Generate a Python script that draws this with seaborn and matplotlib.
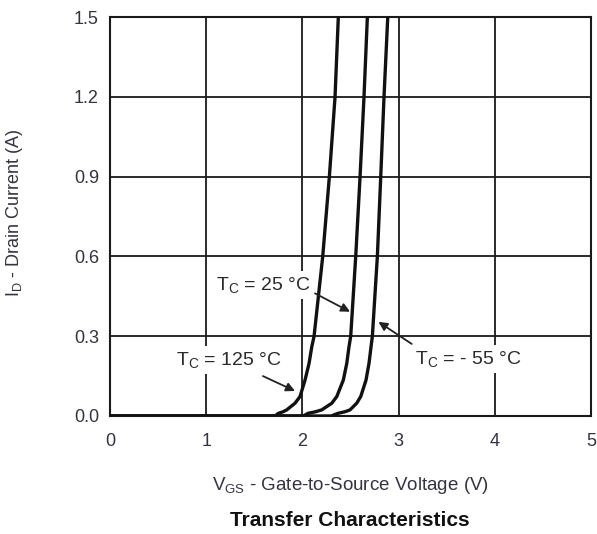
import numpy as np
import pandas as pd
import matplotlib
matplotlib.use("Agg")
import matplotlib.pyplot as plt
import seaborn as sns

# Drain current readings (A) and gate voltage (V) for each case temperature
current_a = [0.0, 0.0, 0.010, 0.016, 0.023, 0.048, 0.073, 0.135, 0.198, 0.26, 0.30, 0.6, 0.9, 1.2, 1.5]
vgs_125c = [0.0, 1.715, 1.750, 1.800, 1.837, 1.923, 1.975, 2.027, 2.069, 2.097, 2.121, 2.211, 2.280, 2.339, 2.373]
vgs_25c = [0.0, 2.010, 2.058, 2.138, 2.201, 2.305, 2.357, 2.425, 2.461, 2.484, 2.502, 2.554, 2.599, 2.640, 2.675]
vgs_m55c = [0.0, 2.300, 2.370, 2.443, 2.495, 2.564, 2.606, 2.661, 2.692, 2.713, 2.727, 2.779, 2.814, 2.848, 2.887]

series_names = ["125", "25", "-55"]
x_ticks = [0, 1, 2, 3, 4, 5]
y_ticks = [0.0, 0.3, 0.6, 0.9, 1.2, 1.5]
y_tick_labels = ["0.0", "0.3", "0.6", "0.9", "1.2", "1.5"]

frames = []
for name, v in zip(series_names, [vgs_125c, vgs_25c, vgs_m55c]):
    frames.append(pd.DataFrame({"vgs": v, "id": current_a, "tc": name,
                                "order": np.arange(len(v))}))
df = pd.concat(frames, ignore_index=True)

sns.set_theme(style="white")
plt.rcParams["font.family"] = ["Liberation Sans", "DejaVu Sans"]
plt.rcParams["mathtext.fontset"] = "custom"
plt.rcParams["mathtext.rm"] = "Liberation Sans"
plt.rcParams["mathtext.it"] = "Liberation Sans:italic"
plt.rcParams["mathtext.bf"] = "Liberation Sans:bold"

fig = plt.figure(figsize=(5.97, 5.34), dpi=100)
ax = fig.add_axes([0.1843, 0.221, 0.8057, 0.747])

sns.lineplot(data=df, x="vgs", y="id", hue="tc", units="tc", estimator=None,
             sort=False, palette=["#111111"] * 3, linewidth=2.4,
             legend=False, ax=ax, zorder=3)
for line in ax.lines:
    line.set_solid_joinstyle("round")

ax.set_xlim(0, 5)
ax.set_ylim(0, 1.5)
ax.set_xticks(x_ticks)
ax.set_yticks(y_ticks)
ax.set_yticklabels(y_tick_labels)
ax.set_xlabel("")
ax.set_ylabel("")
ax.grid(True, color="#1a1a1a", linewidth=1.3)
ax.set_axisbelow(True)
for s in ax.spines.values():
    s.set_visible(True)
    s.set_color("#1a1a1a")
    s.set_linewidth(1.5)
ax.tick_params(length=0, labelsize=13, colors="#333344")
ax.tick_params(axis="y", pad=8)
ax.tick_params(axis="x", pad=12)

txt_color = "#2a2a2a"
box = dict(facecolor="white", edgecolor="none", pad=3)
ax.text(1.100, 0.492, r"T$_{\rm C}$ = 25 °C", fontsize=14, color=txt_color,
        va="center", ha="left", bbox=box, zorder=4)
ax.text(0.685, 0.211, r"T$_{\rm C}$ = 125 °C", fontsize=14, color=txt_color,
        va="center", ha="left", bbox=box, zorder=4)
ax.text(3.165, 0.214, r"T$_{\rm C}$ = - 55 °C", fontsize=14, color=txt_color,
        va="center", ha="left", bbox=box, zorder=4)

arrow = dict(arrowstyle="-|>", color="#222222", lw=1.3, mutation_scale=13,
             shrinkA=0, shrinkB=0)
ax.annotate("", xy=(2.495, 0.392), xytext=(2.131, 0.461), arrowprops=arrow, zorder=5)
ax.annotate("", xy=(1.923, 0.094), xytext=(1.59, 0.150), arrowprops=arrow, zorder=5)
ax.annotate("", xy=(2.79, 0.354), xytext=(3.136, 0.271), arrowprops=arrow, zorder=5)

fig.text(15 / 597, 1 - 213 / 534, r"I$_{\rm D}$ - Drain Current (A)", rotation=90,
         ha="center", va="center", fontsize=13, color="#333344")
fig.text(350 / 597, 1 - 486 / 534, r"V$_{\rm GS}$ - Gate-to-Source Voltage (V)",
         ha="center", va="center", fontsize=13.5, color="#333344")
fig.text(350 / 597, 1 - 520 / 534, "Transfer Characteristics", ha="center",
         va="center", fontsize=15, fontweight="bold", color="#111111")

fig.savefig("out.png", dpi=100, facecolor="white")
